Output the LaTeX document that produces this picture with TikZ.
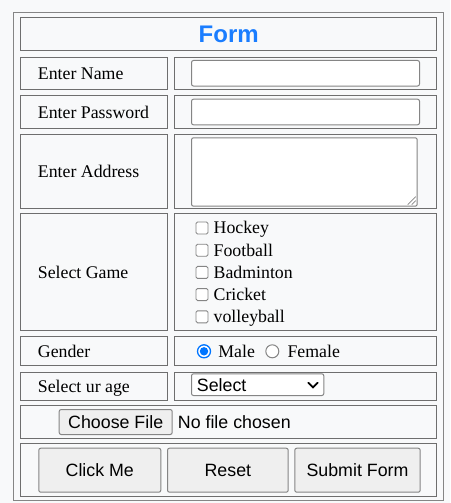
\documentclass[tikz,border=0pt]{standalone}
\usepackage{fontspec}
\setmainfont{Liberation Serif}
\newfontfamily\arialfont{Liberation Sans}
\usetikzlibrary{positioning,calc}
\definecolor{pagebg}{HTML}{F8F9FA}
\definecolor{cellline}{HTML}{6E6E6E}
\definecolor{boxline}{HTML}{858585}
\definecolor{btnfill}{HTML}{EFEFEF}
\definecolor{formblue}{HTML}{1A7DFF}
\definecolor{radioblue}{HTML}{0075FF}
\def\txt{\fontsize{17.8}{20}\selectfont}

\begin{document}
\begin{tikzpicture}[x=1pt, y=-1pt]
	\def\lblshift{17.7pt}
	\tikzstyle{cell}=[draw=cellline, line width=1.4pt, anchor=north west, inner sep=0pt]
	\tikzstyle{field}=[draw=boxline, fill=white, line width=1pt, rounded corners=2pt, anchor=north west, inner sep=0pt]
	\tikzstyle{lbl}=[anchor=west, inner sep=0pt, font=\txt, text height=11.8pt, text depth=0pt]
	\tikzstyle{btn}=[draw=boxline, fill=btnfill, line width=1pt, rounded corners=2pt, anchor=north west, inner sep=0pt, font=\arialfont\txt, text height=12.7pt, text depth=0pt]
	\tikzstyle{chkbox}=[draw=boxline, fill=white, line width=0.9pt, rounded corners=1.5pt, minimum size=12pt, inner sep=0pt]
	\tikzstyle{radio}=[circle, draw=boxline, fill=white, line width=1pt, minimum size=13pt, inner sep=0pt]
	\fill[pagebg] (0,0) rectangle (450,503);
	\useasboundingbox (0,0) rectangle (450,503);
	\node[draw=boxline, line width=1.2pt, minimum width=430pt, minimum height=488pt, anchor=north west] (table) at (13,12) {};
	% title row
	\node[cell, minimum width=416pt, minimum height=33pt] (title) at (20,17) {};
	\node[font=\arialfont\bfseries\fontsize{24}{28}\selectfont, text=formblue] at (title) {Form};
	% name and password
	\node[cell, minimum width=147pt, minimum height=32pt] (namel) at (20,57) {};
	\node[cell, minimum width=262pt, minimum height=32pt] (namer) at (174,57) {};
	\node[lbl] at ([xshift=\lblshift]namel.west) {Enter Name};
	\node[field, minimum width=228pt, minimum height=25.5pt] (namebox) at (191,60) {};
	\node[cell, minimum width=147pt, minimum height=33pt] (passl) at (20,95) {};
	\node[cell, minimum width=262pt, minimum height=33pt] (passr) at (174,95) {};
	\node[lbl] at ([xshift=\lblshift]passl.west) {Enter Password};
	\node[field, minimum width=228pt, minimum height=25.6pt] (passbox) at (191,98.7) {};
	% address
	\node[cell, minimum width=147pt, minimum height=74pt] (addrl) at (20,134) {};
	\node[cell, minimum width=262pt, minimum height=74pt] (addrr) at (174,134) {};
	\node[lbl] at ([xshift=\lblshift]addrl.west) {Enter Address};
	\node[field, minimum width=225.7pt, minimum height=68.4pt] (addrbox) at (191,137.3) {};
	\draw[boxline, line width=0.7pt] ($(addrbox.south east)+(-2,-10)$) -- ($(addrbox.south east)+(-10,-2)$);
	\draw[boxline, line width=0.7pt] ($(addrbox.south east)+(-2,-6)$) -- ($(addrbox.south east)+(-6,-2)$);
	% games
	\node[cell, minimum width=147pt, minimum height=117pt] (gamel) at (20,213) {};
	\node[cell, minimum width=262pt, minimum height=117pt] (gamer) at (174,213) {};
	\node[lbl] at ([xshift=\lblshift]gamel.west) {Select Game};
	\foreach \g [count=\i] in {Hockey,Football,Badminton,Cricket,volleyball} {
		\pgfmathsetmacro{\gy}{228+(\i-1)*22.2}
		\node[chkbox] (chk\i) at (202,\gy) {};
		\node[lbl, right=5pt of chk\i] {\g};
	}
	% gender
	\node[cell, minimum width=147pt, minimum height=29pt] (genl) at (20,336) {};
	\node[cell, minimum width=262pt, minimum height=29pt] (genr) at (174,336) {};
	\node[lbl] at ([xshift=\lblshift]genl.west) {Gender};
	\node[radio, draw=radioblue, line width=1.3pt] (male) at (204,351.3) {};
	\fill[radioblue] (male) circle (4.2pt);
	\node[lbl, right=7pt of male] {Male};
	\node[radio] (female) at (272.3,351.3) {};
	\node[lbl, right=8pt of female] {Female};
	% age
	\node[cell, minimum width=147pt, minimum height=28pt] (agel) at (20,372) {};
	\node[cell, minimum width=262pt, minimum height=28pt] (ager) at (174,372) {};
	\node[lbl] at ([xshift=\lblshift]agel.west) {Select ur age};
	\node[field, minimum width=132.3pt, minimum height=21.7pt] (agebox) at (191,373.3) {};
	\node[lbl, font=\arialfont\txt, text height=12.7pt] at ([xshift=5.7pt]agebox.west) {Select};
	\draw[line width=1.8pt, line cap=round] ($(agebox.east)+(-16,-2)$) -- ($(agebox.east)+(-11.3,2.7)$) -- ($(agebox.east)+(-6.6,-2)$);
	% file
	\node[cell, minimum width=416pt, minimum height=33pt] (filerow) at (20,405) {};
	\node[btn, minimum width=113pt, minimum height=25pt] (choose) at (58.7,409) {Choose File};
	\node[lbl, font=\arialfont\txt, text height=12.7pt, right=5pt of choose] {No file chosen};
	% buttons
	\node[cell, minimum width=416pt, minimum height=53pt] (btnrow) at (20,443) {};
	\node[btn, minimum width=122pt, minimum height=44pt] (click) at (38.3,447.7) {Click Me};
	\node[btn, minimum width=120.7pt, minimum height=44pt, right=5.7pt of click] (reset) {Reset};
	\node[btn, minimum width=125.4pt, minimum height=44pt, right=5.6pt of reset] (submit) {Submit Form};
\end{tikzpicture}
\end{document}
